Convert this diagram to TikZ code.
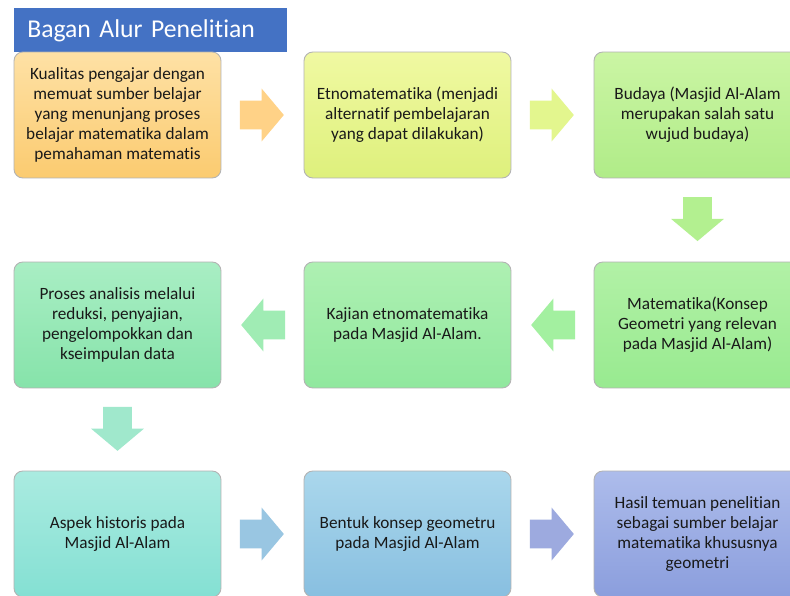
\documentclass[tikz,border=0pt]{standalone}
\usepackage{fontspec}
\setmainfont{Carlito}[Ligatures=NoCommon]
\usetikzlibrary{shapes.arrows,calc}

\definecolor{judul}{HTML}{4472C4}
\definecolor{kuaA}{HTML}{FEE1A5}\definecolor{kuaB}{HTML}{FBCB70}
\definecolor{etnA}{HTML}{F0F9A2}\definecolor{etnB}{HTML}{DEF07C}
\definecolor{budA}{HTML}{CBF5A4}\definecolor{budB}{HTML}{B0EC88}
\definecolor{matA}{HTML}{B2F1A6}\definecolor{matB}{HTML}{98EA90}
\definecolor{kajA}{HTML}{AEF0B2}\definecolor{kajB}{HTML}{90E89E}
\definecolor{proA}{HTML}{A9EEC4}\definecolor{proB}{HTML}{86E3AA}
\definecolor{aspA}{HTML}{AAEBE0}\definecolor{aspB}{HTML}{84E0D3}
\definecolor{benA}{HTML}{AAD7EC}\definecolor{benB}{HTML}{88BFE0}
\definecolor{hasA}{HTML}{ADBCEB}\definecolor{hasB}{HTML}{8B9EDD}
\tikzset{
  kotak/.style={draw=black!30,line width=.5pt,rounded corners=5pt,
    minimum width=4.14cm,minimum height=2.52cm,align=center,
    text=black!90,font=\fontsize{9.8}{11.4}\selectfont},
  panah/.style={single arrow,draw=none,inner sep=.28cm,minimum height=.88cm,
    single arrow head extend=.24cm,single arrow tip angle=100,anchor=tail}
}

\begin{document}
\begin{tikzpicture}[x=.02cm,y=-.02cm]
	    \useasboundingbox(0,0) rectangle (790,595);
	    \clip(0,0) rectangle (790,595);
	    \fill[white](0,0) rectangle (790,595);
	    % judul
	    \node[fill=judul,text=white,anchor=north west,minimum width=5.46cm,minimum height=.88cm,
	      inner xsep=.26cm,text width=4.94cm,align=left,font=\fontsize{14.6}{16}\selectfont] (judul) at (14,8) {Bagan Alur Penelitian};
	    % baris 1
	    \node[kotak,top color=kuaA,bottom color=kuaB] (kualitas) at (117.5,115)
	      {Kualitas pengajar dengan\\memuat sumber belajar\\yang menunjang proses\\belajar matematika dalam\\pemahaman matematis};
	    \node[kotak,top color=etnA,bottom color=etnB] (etno) at (407.5,115)
	      {Etnomatematika (menjadi\\alternatif pembelajaran\\yang dapat dilakukan)};
	    \node[kotak,top color=budA,bottom color=budB] (budaya) at (697.5,115)
	      {Budaya (Masjid Al-Alam\\merupakan salah satu\\wujud budaya)};
	    % baris 2
	    \node[kotak,top color=matA,bottom color=matB] (matematika) at (697.5,325)
	      {Matematika(Konsep\\Geometri yang relevan\\pada Masjid Al-Alam)};
	    \node[kotak,top color=kajA,bottom color=kajB] (kajian) at (407.5,325)
	      {Kajian etnomatematika\\pada Masjid Al-Alam.};
	    \node[kotak,top color=proA,bottom color=proB] (proses) at (117.5,325)
	      {Proses analisis melalui\\reduksi, penyajian,\\pengelompokkan dan\\kseimpulan data};
	    % baris 3
	    \node[kotak,top color=aspA,bottom color=aspB] (aspek) at (117.5,534)
	      {Aspek historis pada\\Masjid Al-Alam};
	    \node[kotak,top color=benA,bottom color=benB] (bentuk) at (407.5,534)
	      {Bentuk konsep geometru\\pada Masjid Al-Alam};
	    \node[kotak,top color=hasA,bottom color=hasB] (hasil) at (697.5,534)
	      {Hasil temuan penelitian\\sebagai sumber belajar\\matematika khususnya\\geometri};
	    % panah
	    \node[panah,fill={rgb,255:red,255;green,210;blue,135}] (p1) at ($(kualitas.east)!.22!(etno.west)$) {};
	    \node[panah,fill={rgb,255:red,227;green,246;blue,142}] (p2) at ($(etno.east)!.22!(budaya.west)$) {};
	    \node[panah,fill={rgb,255:red,179;green,240;blue,144},shape border rotate=270] (p3) at ($(budaya.south)!.22!(matematika.north)$) {};
	    \node[panah,fill={rgb,255:red,163;green,240;blue,160},shape border rotate=180] (p4) at ($(matematika.west)!.22!(kajian.east)$) {};
	    \node[panah,fill={rgb,255:red,160;green,236;blue,180},shape border rotate=180] (p5) at ($(kajian.west)!.22!(proses.east)$) {};
	    \node[panah,fill={rgb,255:red,160;green,232;blue,204},shape border rotate=270] (p6) at ($(proses.south)!.22!(aspek.north)$) {};
	    \node[panah,fill={rgb,255:red,153;green,198;blue,226}] (p7) at ($(aspek.east)!.22!(bentuk.west)$) {};
	    \node[panah,fill={rgb,255:red,157;green,170;blue,223}] (p8) at ($(bentuk.east)!.22!(hasil.west)$) {};
\end{tikzpicture}
\end{document}
